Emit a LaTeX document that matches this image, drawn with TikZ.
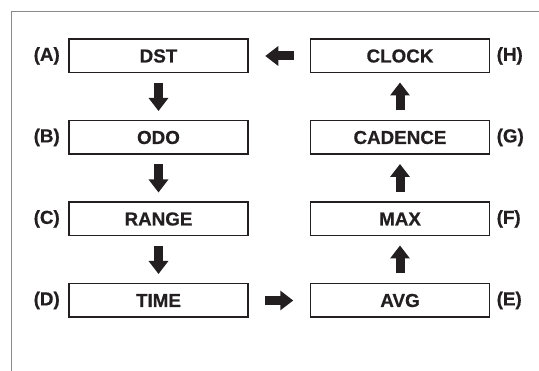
\documentclass[tikz,border=0pt]{standalone}
\usepackage{fontspec}
\setmainfont{Liberation Sans}
\newfontfamily\heavyfont{Liberation Sans Bold}[FakeBold=0.6]
\usetikzlibrary{arrows.meta}
\definecolor{ink}{HTML}{231F20}
\definecolor{frame}{HTML}{8A8A8A}
\tikzset{
  stepbox/.style={draw=ink, line width=1.5pt, minimum width=179pt, minimum height=33.5pt,
    inner sep=0pt, text=ink, font=\fontsize{18.8}{21}\heavyfont},
  tag/.style={text=ink, inner sep=0pt, font=\fontsize{18.8}{21}\heavyfont},
  fatarrow/.style={draw=ink, line width=9pt, -{Triangle[length=13pt,width=19pt]}}
}
\begin{document}
\begin{tikzpicture}[x=1pt,y=1pt]
\useasboundingbox (0,0) rectangle (539,371);
% partial outer frame
\coordinate (fl) at (11.5,0);
\coordinate (fc) at (11.5,359.5);
\coordinate (fr) at (539,359.5);
\draw[frame, line width=1pt] (fl) -- (fc) -- (fr);
% left column
\node[stepbox] (dst)   at (158.5,315)   {DST};
\node[stepbox] (odo)   at (158.5,233.5) {ODO};
\node[stepbox] (range) at (158.5,152)   {RANGE};
\node[stepbox] (time)  at (158.5,70.5)  {TIME};
% right column
\node[stepbox] (clock)   at (400,315)   {CLOCK};
\node[stepbox] (cadence) at (400,233.5) {CADENCE};
\node[stepbox] (max)     at (400,152)   {MAX};
\node[stepbox] (avg)     at (400,70.5)  {AVG};
% tags
\node[tag, anchor=east] (la) at (60,315)   {(A)};
\node[tag, anchor=east] (lb) at (60,233.5) {(B)};
\node[tag, anchor=east] (lc) at (60,152)   {(C)};
\node[tag, anchor=east] (ld) at (60,70.5)  {(D)};
\node[tag, anchor=west] (lh) at (496.5,315)   {(H)};
\node[tag, anchor=west] (lg) at (496.5,233.5) {(G)};
\node[tag, anchor=west] (lf) at (496.5,152)   {(F)};
\node[tag, anchor=west] (le) at (496.5,70.5)  {(E)};
% arrows
\draw[fatarrow, shorten <=9.5pt, shorten >=9pt] (dst) -- (odo);
\draw[fatarrow, shorten <=9.5pt, shorten >=9pt] (odo) -- (range);
\draw[fatarrow, shorten <=9.5pt, shorten >=9pt] (range) -- (time);
\draw[fatarrow, shorten <=16pt, shorten >=16.5pt] (time) -- (avg);
\draw[fatarrow, shorten <=9.5pt, shorten >=9pt] (avg) -- (max);
\draw[fatarrow, shorten <=9.5pt, shorten >=9pt] (max) -- (cadence);
\draw[fatarrow, shorten <=9.5pt, shorten >=9pt] (cadence) -- (clock);
\draw[fatarrow, shorten <=16pt, shorten >=16.5pt] (clock) -- (dst);
\end{tikzpicture}
\end{document}
